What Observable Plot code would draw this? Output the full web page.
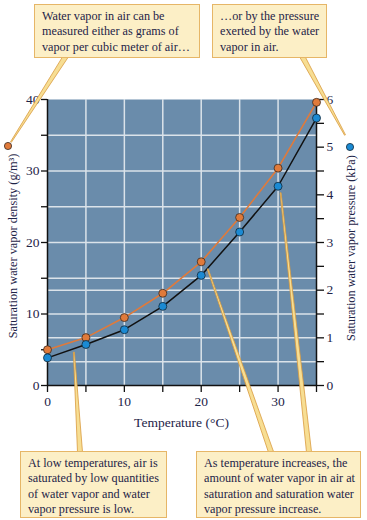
<!DOCTYPE html>
<html>
<head>
<meta charset="utf-8">
<script src="https://cdn.jsdelivr.net/npm/d3@7"></script>
<script src="https://cdn.jsdelivr.net/npm/@observablehq/plot@0.6"></script>
<style>
  html, body { margin: 0; padding: 0; background: #fff; }
  #wrap { position: relative; width: 367px; height: 520px; overflow: hidden; font-family: "Liberation Serif", "Times New Roman", serif; }
  #wrap > svg { position: absolute; left: 0; top: 0; }
  .box { position: absolute; box-sizing: border-box; background: #fcefc6; border: 1.3px solid #e6b667;
         font-family: "Liberation Serif", serif; font-size: 12.2px; line-height: 15.3px; color: #1e2448; padding: 4px 7px; white-space: nowrap; }
</style>
</head>
<body>
<div id="wrap"></div>
<script>
// ---- data ----
const tempC = [0, 5, 10, 15, 20, 25, 30, 35];
const densityGm3 = [5.0, 6.7, 9.5, 12.9, 17.3, 23.5, 30.4, 39.6];
const pressureKPa = [0.58, 0.86, 1.17, 1.66, 2.31, 3.22, 4.18, 5.61];
const xTicks = [0, 5, 10, 15, 20, 25, 30, 35];
const xTickLabels = [0, 10, 20, 30];
const leftTicks = [0, 5, 10, 15, 20, 25, 30, 35, 40];
const leftTickLabels = [0, 10, 20, 30, 40];
const rightTicks = [0, 0.5, 1, 1.5, 2, 2.5, 3, 3.5, 4, 4.5, 5, 5.5, 6];
const rightTickLabels = [0, 1, 2, 3, 4, 5, 6];
const gridX = [5, 10, 15, 20, 25, 30];
const gridLeft = [10, 15, 20, 25, 30, 35];
const gridRight = [0.5, 1, 2];
const xLabel = "Temperature (°C)";
const leftLabel = "Saturation water vapor density (g/m³)";
const rightLabel = "Saturation water vapor pressure (kPa)";
const notes = [
  {lines: ["Water vapor in air can be", "measured either as grams of", "vapor per cubic meter of air…"]},
  {lines: ["…or by the pressure", "exerted by the water", "vapor in air."]},
  {lines: ["At low temperatures, air is", "saturated by low quantities", "of water vapor and water", "vapor pressure is low."]},
  {lines: ["As temperature increases, the", "amount of water vapor in air at", "saturation and saturation water", "vapor pressure increase."]}
];

// ---- styles ----
const k = 40 / 6; // kPa -> g/m3 axis factor
const bg = "#6a8cab";
const gridCol = "#dbe3ea";
const orange = "#e07a3a";
const blue = "#1b8ad3";
const ink = "#1e2448";

const rows = tempC.map((t, i) => ({t, d: densityGm3[i], p: pressureKPa[i]}));

const chart = Plot.plot({
  width: 367, height: 520,
  marginLeft: 47, marginRight: 51, marginTop: 99, marginBottom: 135,
  style: {fontFamily: "Liberation Serif, serif", fontSize: "13.5px", color: ink, background: "transparent"},
  x: {domain: [0, 35]},
  y: {domain: [0, 40]},
  marks: [
    Plot.frame({fill: bg, stroke: null}),
    Plot.ruleX(gridX, {stroke: gridCol, strokeWidth: 1.5}),
    Plot.ruleY(gridLeft, {stroke: gridCol, strokeWidth: 1.5}),
    Plot.ruleY(gridRight.map(p => p * k), {stroke: gridCol, strokeWidth: 1.5}),
    Plot.axisX({ticks: xTicks, tickSize: 7, tickPadding: 4, stroke: "#111", strokeWidth: 1.3,
      tickFormat: d => xTickLabels.includes(d) ? String(d) : "", label: null}),
    Plot.axisY({ticks: leftTicks, tickSize: 6, tickPadding: 2, stroke: "#111", strokeWidth: 1.3,
      tickFormat: d => leftTickLabels.includes(d) ? String(d) : "", label: null}),
    Plot.axisY({anchor: "right", ticks: rightTicks.map(p => p * k), tickSize: 7, tickPadding: 3, stroke: "#111", strokeWidth: 1.3,
      tickFormat: d => { const p = Math.round(d / k * 100) / 100; return rightTickLabels.includes(p) ? String(p) : ""; }, label: null}),
    Plot.ruleX([0, 35], {stroke: "#111", strokeWidth: 1.5}),
    Plot.ruleY([0], {stroke: "#111", strokeWidth: 1.5}),
    Plot.line(rows, {x: "t", y: "d", stroke: orange, strokeWidth: 1.6}),
    Plot.line(rows, {x: "t", y: d => d.p * k, stroke: "#111", strokeWidth: 1.5}),
    Plot.dot(rows, {x: "t", y: "d", r: 4, fill: orange, stroke: "#3b2a20", strokeWidth: 0.8}),
    Plot.dot(rows, {x: "t", y: d => d.p * k, r: 4, fill: blue, stroke: "#10283a", strokeWidth: 0.8})
  ]
});

const wrap = document.getElementById("wrap");
wrap.appendChild(chart);

const X = v => chart.scale("x").apply(v);
const Y = v => chart.scale("y").apply(v);

// overlay: axis titles, legend dots, leader wedges
const ov = d3.create("svg").attr("width", 367).attr("height", 520);
ov.append("text").attr("transform", `translate(17,${(Y(0) + Y(40)) / 2 + 4}) rotate(-90)`)
  .attr("text-anchor", "middle").attr("font-family", "Liberation Serif, serif").attr("font-size", 12.3).attr("fill", ink)
  .text(leftLabel);
ov.append("text").attr("transform", `translate(355,${(Y(0) + Y(40)) / 2 + 6}) rotate(-90)`)
  .attr("text-anchor", "middle").attr("font-family", "Liberation Serif, serif").attr("font-size", 12.3).attr("fill", ink)
  .text(rightLabel);
ov.append("text").attr("x", (X(0) + X(35)) / 2).attr("y", Y(0) + 42)
  .attr("text-anchor", "middle").attr("font-family", "Liberation Serif, serif").attr("font-size", 13.5).attr("fill", ink)
  .text(xLabel);

function wedge(x1, y1, x2, y2, w) {
  // wide end at (x1,y1), tip at (x2,y2)
  const dx = x2 - x1, dy = y2 - y1, L = Math.hypot(dx, dy);
  const nx = -dy / L * w / 2, ny = dx / L * w / 2;
  ov.append("path")
    .attr("d", `M${x1 + nx},${y1 + ny}L${x2 + nx * 0.2},${y2 + ny * 0.2}L${x2 - nx * 0.2},${y2 - ny * 0.2}L${x1 - nx},${y1 - ny}Z`)
    .attr("fill", "#f7de93").attr("stroke", "#d99a3e").attr("stroke-width", 0.8);
}
// legend markers
const legO = {x: 8, y: 146}, legB = {x: 350, y: 147};
wedge(66, 56, legO.x + 3, legO.y - 4, 5);
wedge(302, 56, legB.x - 5, legB.y - 12, 5);
wedge(80, 452, X(3.5), Y(4.6), 5);
wedge(271, 452, X(20) + 7, Y(pressureKPa[4] * k) - 6, 5);
wedge(309, 452, X(30) + 3, Y(pressureKPa[6] * k) + 7, 5);
ov.append("circle").attr("cx", legO.x).attr("cy", legO.y).attr("r", 3.6).attr("fill", orange).attr("stroke", "#3b2a20").attr("stroke-width", 0.8);
ov.append("circle").attr("cx", legB.x).attr("cy", legB.y).attr("r", 3.6).attr("fill", blue).attr("stroke", "#10283a").attr("stroke-width", 0.8);
wrap.appendChild(ov.node());

// annotation boxes
const boxPos = [
  {left: 34, top: 4, width: 166, height: 54},
  {left: 212, top: 4, width: 115, height: 54},
  {left: 20, top: 451, width: 147, height: 67},
  {left: 196, top: 451, width: 165, height: 67}
];
notes.forEach((n, i) => {
  const d = document.createElement("div");
  d.className = "box";
  const p = boxPos[i];
  Object.assign(d.style, {left: p.left + "px", top: p.top + "px", width: p.width + "px", height: p.height + "px"});
  d.innerHTML = n.lines.join("<br>");
  wrap.appendChild(d);
});
</script>
</body>
</html>
